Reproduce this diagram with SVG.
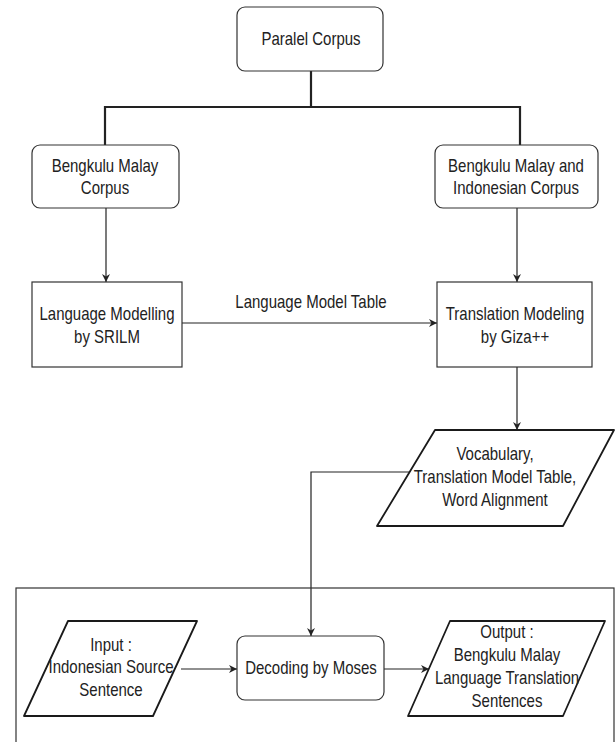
<svg xmlns="http://www.w3.org/2000/svg" width="616" height="742" viewBox="0 0 616 742">
<defs>
<style>
text{font-family:"Liberation Sans",Arial,sans-serif;font-size:15px;fill:#222;text-anchor:middle}
.box{fill:#fff;stroke:#333;stroke-width:1.2}
.para{fill:#fff;stroke:#1a1a1a;stroke-width:1.8;stroke-linejoin:round}
.ln{fill:none;stroke:#222;stroke-width:1.2}
.thick{fill:none;stroke:#222;stroke-width:2.2}
</style>
<marker id="ah" viewBox="0 0 10 10" refX="10" refY="5" markerWidth="8" markerHeight="8" markerUnits="userSpaceOnUse" orient="auto">
<path d="M0,0 L10,5 L0,10 L3,5 Z" fill="#222"/>
</marker>
</defs>
<rect width="616" height="742" fill="#fff"/>
<g id="connectors">
<path class="thick" d="M311,71 V107 M105,145 V107 H520 V145"/>
<path class="ln" d="M106,208 V282" marker-end="url(#ah)"/>
<path class="ln" d="M517,208 V282" marker-end="url(#ah)"/>
<path class="ln" d="M182,323 H437" marker-end="url(#ah)"/>
<path class="ln" d="M517,367 V430" marker-end="url(#ah)"/>
<path class="ln" d="M410,472 H311 V636" marker-end="url(#ah)"/>
<path class="ln" d="M181,669 H237" marker-end="url(#ah)"/>
<path class="ln" d="M384,669 H429" marker-end="url(#ah)"/>
<text transform="translate(311,308) scale(1,1.22)">Language Model Table</text>
</g>
<g id="frame"><rect x="16" y="588" width="598" height="170" fill="none" stroke="#333" stroke-width="1.2"/></g>
<g id="paralel-corpus"><rect class="box" x="237" y="7" width="146" height="64" rx="8"/><text transform="translate(311,45) scale(1,1.22)">Paralel Corpus</text></g>
<g id="bm-corpus"><rect class="box" x="32" y="145" width="147" height="63" rx="8"/><text transform="translate(105,172) scale(1,1.22)">Bengkulu Malay</text><text transform="translate(105,194) scale(1,1.22)">Corpus</text></g>
<g id="bmi-corpus"><rect class="box" x="435" y="145" width="163" height="63" rx="8"/><text transform="translate(516,172) scale(1,1.22)">Bengkulu Malay and</text><text transform="translate(516,194) scale(1,1.22)">Indonesian Corpus</text></g>
<g id="lm"><rect class="box" x="32" y="282" width="150" height="85"/><text transform="translate(107,320) scale(1,1.22)">Language Modelling</text><text transform="translate(107,343) scale(1,1.22)">by SRILM</text></g>
<g id="tm"><rect class="box" x="437" y="282" width="155" height="85"/><text transform="translate(515,320) scale(1,1.22)">Translation Modeling</text><text transform="translate(515,343) scale(1,1.22)">by Giza++</text></g>
<g id="vocab"><path class="para" d="M435,430 H614 L563,526 H377 Z"/><text transform="translate(495,460) scale(1,1.22)">Vocabulary,</text><text transform="translate(495,483) scale(1,1.22)">Translation Model Table,</text><text transform="translate(495,506) scale(1,1.22)">Word Alignment</text></g>
<g id="input"><path class="para" d="M68,621 H197 L153,716 H24 Z"/><text transform="translate(111,651) scale(1,1.22)">Input :</text><text transform="translate(111,673) scale(1,1.22)">Indonesian Source</text><text transform="translate(111,696) scale(1,1.22)">Sentence</text></g>
<g id="decode"><rect class="box" x="237" y="636" width="147" height="64" rx="8"/><text transform="translate(311,674) scale(1,1.22)">Decoding by Moses</text></g>
<g id="output"><path class="para" d="M450,621 H605 L563,716 H408 Z"/><text transform="translate(507,638) scale(1,1.22)">Output :</text><text transform="translate(507,661) scale(1,1.22)">Bengkulu Malay</text><text transform="translate(507,684) scale(1,1.22)">Language Translation</text><text transform="translate(507,707) scale(1,1.22)">Sentences</text></g>
</svg>
